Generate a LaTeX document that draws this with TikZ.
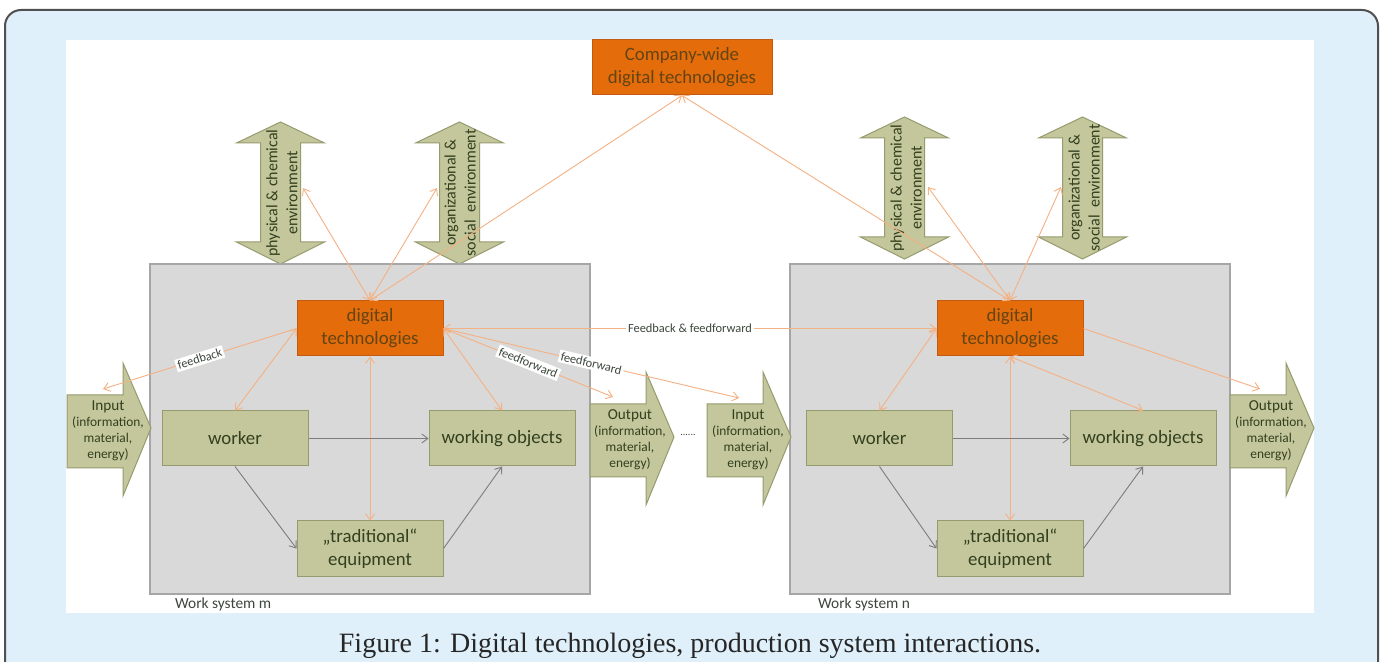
\documentclass[tikz,border=0pt]{standalone}
\usepackage{fontspec}
\setmainfont{Carlito}
\newfontfamily\capfont{Liberation Serif}
\usetikzlibrary{arrows.meta}

\definecolor{pageblue}{RGB}{223,240,250}
\definecolor{framegray}{RGB}{80,80,80}
\definecolor{sysgray}{RGB}{217,217,217}
\definecolor{sysline}{RGB}{166,166,166}
\definecolor{olivefill}{RGB}{196,198,156}
\definecolor{oliveline}{RGB}{150,155,110}
\definecolor{olivetext}{RGB}{50,64,30}
\definecolor{digiorange}{RGB}{228,108,10}
\definecolor{digiline}{RGB}{196,90,17}
\definecolor{digitext}{RGB}{100,68,20}
\definecolor{linkorange}{RGB}{244,177,131}
\definecolor{linkgray}{RGB}{125,125,125}
\definecolor{labeltext}{RGB}{60,70,60}

\begin{document}
\begin{tikzpicture}[x=0.5pt, y=-0.5pt, >={Straight Barb[length=3pt,width=4.5pt]},
    element/.style={fill=olivefill, draw=oliveline, line width=0.5pt, text=olivetext,
      minimum width=73pt, minimum height=27.5pt, inner sep=0pt, align=center,
      font=\fontsize{9.4}{11.5}\selectfont},
    digi/.style={element, fill=digiorange, draw=digiline, text=digitext},
    system/.style={fill=sysgray, draw=sysline, line width=0.6pt,
      minimum width=220pt, minimum height=165pt, inner sep=0pt},
    flow/.style={fill=olivefill, draw=oliveline, line width=0.5pt},
    flowtext/.style={text=olivetext, align=center, font=\fontsize{6.7}{8}\selectfont},
    envtext/.style={text=olivetext, align=center, rotate=90, font=\fontsize{8}{10}\selectfont},
    link/.style={linkorange, line width=0.45pt},
    pass/.style={linkgray, line width=0.45pt},
    tag/.style={fill=white, inner sep=1pt, sloped, text=labeltext, font=\fontsize{6.2}{7}\selectfont}
  ]
  \useasboundingbox (0,0) rectangle (1382,662);
  \clip (0,0) rectangle (1382,662);
  \draw[fill=pageblue, draw=framegray, line width=1pt, rounded corners=8pt] (5,10) rectangle (1378,700);
  \fill[white] (66,40) rectangle (1314,613);

  % environment double arrows
  \foreach \cx/\ty in {280.5/122, 459.5/122, 904.5/117, 1082.5/117}
    \draw[flow] (\cx,\ty) -- (\cx+44,\ty+21) -- (\cx+20,\ty+21) -- (\cx+20,\ty+120)
      -- (\cx+44,\ty+120) -- (\cx,\ty+142) -- (\cx-44,\ty+120) -- (\cx-20,\ty+120)
      -- (\cx-20,\ty+21) -- (\cx-44,\ty+21) -- cycle;
  \node (envpm) [envtext] at (282,193) {physical \& chemical\\environment};
  \node (envom) [envtext] at (460,193) {organizational \&\\social\ \ environment};
  \node (envpn) [envtext] at (906,188) {physical \& chemical\\environment};
  \node (envon) [envtext] at (1084,188) {organizational \&\\social\ \ environment};

  % work systems
  \node (sysm) [system] at (370,429) {};
  \node (sysn) [system] at (1010,429) {};
  \node (labm) [anchor=west, text=labeltext, font=\fontsize{7.7}{9}\selectfont] at (168,604) {Work system m};
  \node (labn) [anchor=west, text=labeltext, font=\fontsize{7.7}{9}\selectfont] at (811,604) {Work system n};

  % input / output arrows
  \foreach \l/\ty in {67/428, 590/437, 707/437, 1230/428}
    \draw[flow] (\l,\ty-33) -- (\l+56,\ty-33) -- (\l+56,\ty-65) -- (\l+84,\ty)
      -- (\l+56,\ty+68) -- (\l+56,\ty+40) -- (\l,\ty+40) -- cycle;
  \node (inputm) [flowtext] at (108,431) {{\fontsize{7.6}{9}\selectfont Input}\\(information,\\material,\\energy)};
  \node (outputm) [flowtext] at (630,440) {{\fontsize{7.6}{9}\selectfont Output}\\(information,\\material,\\energy)};
  \node (inputn) [flowtext] at (748,440) {{\fontsize{7.6}{9}\selectfont Input}\\(information,\\material,\\energy)};
  \node (outputn) [flowtext] at (1271,431) {{\fontsize{7.6}{9}\selectfont Output}\\(information,\\material,\\energy)};
  \node (dots) [text=labeltext, font=\fontsize{5}{6}\selectfont] at (688,435) {......};

  \node (company) [digi, minimum width=90pt] at (682,67.5) {Company-wide\\digital technologies};

  \node (dtm) [digi] at (370,328.5) {digital\\technologies};
  \node (workm) [element] at (235,438.5) {worker};
  \node (objm) [element] at (502,438.5) {working objects};
  \node (equipm) [element] at (370,548.5) {„traditional“\\equipment};

  \node (dtn) [digi] at (1010,328.5) {digital\\technologies};
  \node (workn) [element] at (879.5,438.5) {worker};
  \node (objn) [element] at (1143,438.5) {working objects};
  \node (equipn) [element] at (1010,548.5) {„traditional“\\equipment};

  \coordinate (physm) at (303,188);
  \coordinate (orgm) at (437,188);
  \coordinate (physn) at (928,187);
  \coordinate (orgn) at (1061,187);
  \coordinate (fbm) at (103,389);
  \coordinate (ffm) at (613,397);
  \coordinate (ffn) at (739,398);
  \coordinate (ffo) at (1260,389);

  \draw[link, <->] (dtm.north) -- (physm);
  \draw[link, <->] (dtm.north) -- (orgm);
  \draw[link, <->] (dtm.north) -- (company.south);
  \draw[link, <->] (dtm.west) -- (workm.north);
  \draw[link, ->] (dtm.west) -- node[tag] {feedback} (fbm);
  \draw[link, <->] (dtm.south) -- (equipm.north);
  \draw[link, <->] (dtm.east) -- (objm.north);
  \draw[link, ->] (dtm.east) -- node[tag] {feedforward} (ffm);
  \draw[link, ->] (dtm.east) -- node[tag] {feedforward} (ffn);
  \draw[link, <->] (dtm.east) -- node[tag] {Feedback \& feedforward} (dtn.west);

  \draw[link, <->] (dtn.north) -- (physn);
  \draw[link, <->] (dtn.north) -- (orgn);
  \draw[link, <->] (dtn.north) -- (company.south);
  \draw[link, <->] (dtn.west) -- (workn.north);
  \draw[link, <->] (dtn.south) -- (equipn.north);
  \draw[link, <->] (dtn.south) -- (objn.north);
  \draw[link, ->] (dtn.east) -- (ffo);

  \draw[pass, ->] (workm.east) -- (objm.west);
  \draw[pass, ->] (workm.south) -- (equipm.west);
  \draw[pass, ->] (equipm.east) -- (objm.south);
  \draw[pass, ->] (workn.east) -- (objn.west);
  \draw[pass, ->] (workn.south) -- (equipn.west);
  \draw[pass, ->] (equipn.east) -- (objn.south);

  \node (caption) [anchor=base, text=black!85, font=\capfont\fontsize{14}{16}\selectfont] at (690,652)
    {Figure 1: Digital technologies, production system interactions.};
\end{tikzpicture}
\end{document}
